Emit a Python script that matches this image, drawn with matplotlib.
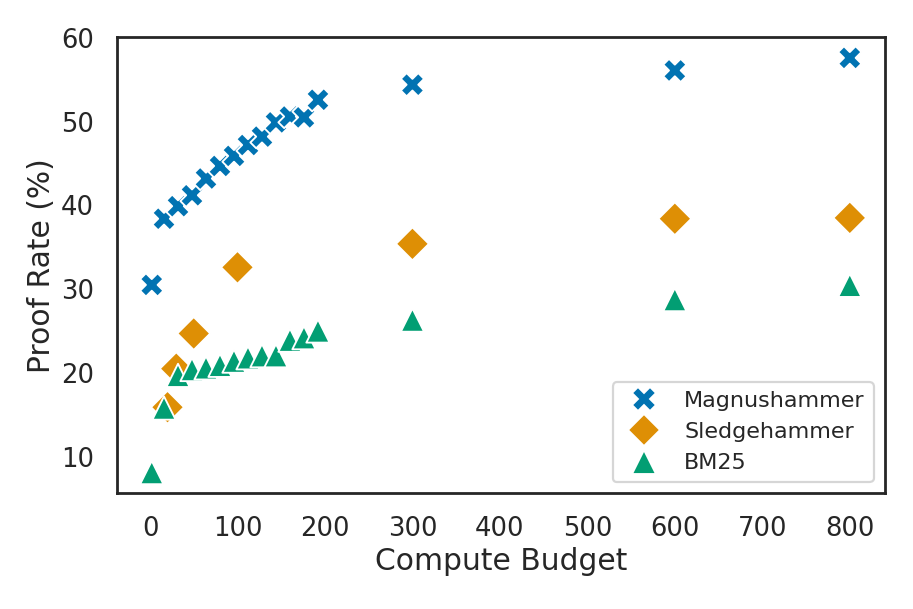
import numpy as np
import pandas as pd
import matplotlib
matplotlib.use('Agg')
import matplotlib.pyplot as plt
import seaborn as sns

# Magnushammer
magnus_x = [2, 16, 32, 48, 64, 80, 96, 112, 128, 144, 160, 176, 192, 300, 600, 800]
magnus_y = [30.5, 38.4, 39.9, 41.2, 43.2, 44.7, 45.9, 47.2, 48.2, 49.9, 50.6, 50.5,
            52.6, 54.4, 56.1, 57.6]

# Sledgehammer
sledge_x = [20, 30, 50, 100, 300, 600, 800]
sledge_y = [15.9, 20.5, 24.7, 32.6, 35.4, 38.4, 38.5]

# BM25
bm25_x = [2, 16, 32, 48, 64, 80, 96, 112, 128, 144, 160, 176, 192, 300, 600, 800]
bm25_y = [8.1, 15.8, 19.7, 20.4, 20.6, 20.9, 21.4, 21.8, 22.05, 22.05, 23.9, 24.2,
          25.0, 26.3, 28.75, 30.45]

df = pd.concat([
    pd.DataFrame({'Compute Budget': magnus_x, 'Proof Rate (%)': magnus_y, 'method': 'Magnushammer'}),
    pd.DataFrame({'Compute Budget': sledge_x, 'Proof Rate (%)': sledge_y, 'method': 'Sledgehammer'}),
    pd.DataFrame({'Compute Budget': bm25_x, 'Proof Rate (%)': bm25_y, 'method': 'BM25'}),
], ignore_index=True)

sns.set_theme(context='paper', style='white', palette='colorblind',
              rc={'xtick.labelsize': 9.3, 'ytick.labelsize': 9.3, 'axes.labelsize': 10.7,
                  'axes.labelpad': 1.8})

fig = plt.figure(figsize=(9.13 / 2, 6.09 / 2), dpi=200)
ax = fig.add_axes([0.128, 0.190, 0.841, 0.749])

sns.scatterplot(data=df, x='Compute Budget', y='Proof Rate (%)', hue='method',
                style='method', markers={'Magnushammer': 'X', 'Sledgehammer': 'D', 'BM25': '^'},
                s=70, ax=ax)

for sp in ax.spines.values():
    sp.set_color('.15')
ax.set_xticks([0, 100, 200, 300, 400, 500, 600, 700, 800])
ax.set_yticks([10, 20, 30, 40, 50, 60])
ax.legend(loc='lower right', fontsize=8, title=None)

fig.savefig('out.png', dpi=200)
